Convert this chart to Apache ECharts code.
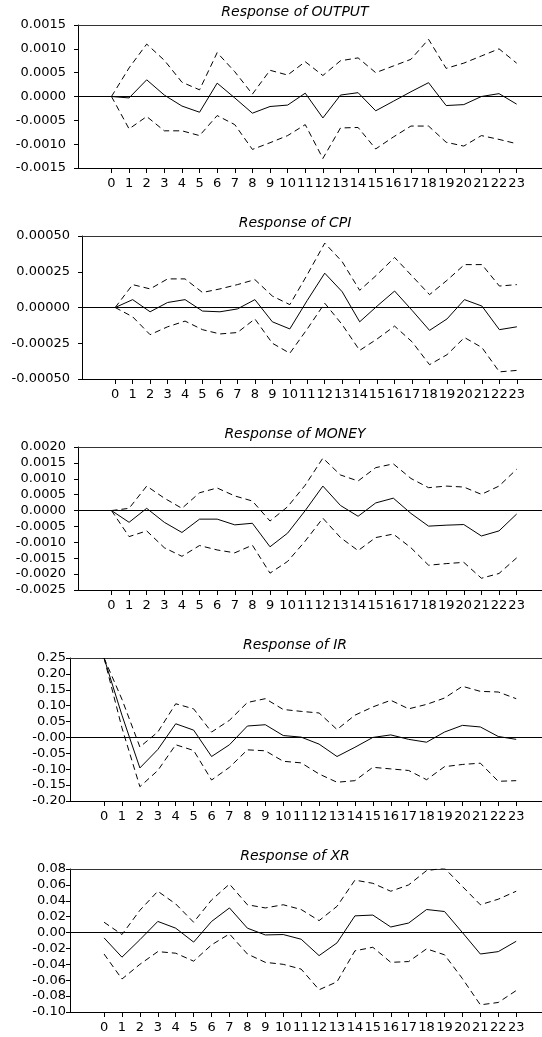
<!DOCTYPE html>
<html>
<head>
<meta charset="utf-8">
<script src="https://cdn.jsdelivr.net/npm/echarts@6/dist/echarts.min.js"></script>
<style>
html, body { margin: 0; padding: 0; background: #fff; }
#main { width: 542px; height: 1037px; }
</style>
</head>
<body>
<div id="main"></div>
<script>
// impulse response horizons
var steps = [0, 1, 2, 3, 4, 5, 6, 7, 8, 9, 10, 11, 12, 13, 14, 15, 16, 17, 18, 19, 20, 21, 22, 23];

// Response of OUTPUT
var outputResp  = [0, -0.00003, 0.00035, 0.00003, -0.0002, -0.00033, 0.00028, -0.00003, -0.00035, -0.00021, -0.00018, 0.00007, -0.00045, 0.00003, 0.00008, -0.0003, -0.0001, 0.0001, 0.00029, -0.00019, -0.00017, 0, 0.00006, -0.00016];
var outputUpper = [0, 0.0006, 0.0011, 0.00076, 0.0003, 0.00014, 0.00092, 0.00052, 0.00005, 0.00055, 0.00045, 0.00073, 0.00044, 0.00075, 0.00081, 0.0005, 0.00064, 0.00078, 0.0012, 0.00059, 0.0007, 0.00085, 0.001, 0.0007];
var outputLower = [0, -0.00068, -0.00042, -0.00072, -0.00072, -0.00082, -0.0004, -0.00059, -0.00111, -0.00097, -0.00082, -0.00059, -0.0013, -0.00066, -0.00065, -0.0011, -0.00085, -0.00062, -0.00062, -0.00096, -0.00104, -0.00082, -0.0009, -0.00099];

// Response of CPI
var cpiResp  = [0, 0.000055, -0.00003, 0.000035, 0.000055, -0.000025, -0.00003, -0.00001, 0.000055, -0.0001, -0.00015, 0.00005, 0.00024, 0.00011, -0.0001, 0.00001, 0.000115, -0.00002, -0.00016, -0.00008, 0.000055, 0.00001, -0.000155, -0.000135];
var cpiUpper = [0, 0.00016, 0.00013, 0.0002, 0.0002, 0.000105, 0.00013, 0.00016, 0.000195, 0.00008, 0.00002, 0.00023, 0.00045, 0.00032, 0.00012, 0.00023, 0.00035, 0.00022, 0.00009, 0.00019, 0.0003, 0.0003, 0.00015, 0.00016];
var cpiLower = [0, -0.000065, -0.00019, -0.000135, -0.000095, -0.000155, -0.000185, -0.000175, -0.00008, -0.00025, -0.00032, -0.00015, 0.00003, -0.00012, -0.0003, -0.00022, -0.00013, -0.00024, -0.0004, -0.00033, -0.00021, -0.00028, -0.00045, -0.00044];

// Response of MONEY
var moneyResp  = [0, -0.00037, 0.00007, -0.00037, -0.00069, -0.00027, -0.00027, -0.00045, -0.0004, -0.00114, -0.00071, 0, 0.00077, 0.00016, -0.00018, 0.00024, 0.00039, -0.00009, -0.00049, -0.00046, -0.00044, -0.0008, -0.00064, -0.00011];
var moneyUpper = [0, 0.00007, 0.00077, 0.00039, 0.00007, 0.00056, 0.00071, 0.00046, 0.0003, -0.00033, 0.00012, 0.0008, 0.00165, 0.00112, 0.00093, 0.00135, 0.00147, 0.00101, 0.00072, 0.00077, 0.00074, 0.00051, 0.00077, 0.0013];
var moneyLower = [0, -0.00082, -0.00064, -0.00117, -0.00144, -0.0011, -0.00124, -0.00133, -0.00109, -0.00197, -0.0016, -0.00096, -0.00024, -0.00085, -0.00126, -0.00085, -0.00074, -0.00117, -0.00172, -0.00167, -0.00163, -0.00213, -0.00198, -0.00149];

// Response of IR
var irResp  = [0.25, 0.07, -0.096, -0.038, 0.043, 0.023, -0.06, -0.023, 0.036, 0.04, 0.006, 0.001, -0.021, -0.06, -0.031, 0, 0.008, -0.006, -0.015, 0.017, 0.038, 0.033, 0.003, -0.006];
var irUpper = [0.25, 0.12, -0.03, 0.017, 0.106, 0.09, 0.017, 0.054, 0.11, 0.122, 0.088, 0.082, 0.077, 0.025, 0.07, 0.096, 0.117, 0.09, 0.104, 0.124, 0.161, 0.145, 0.143, 0.122];
var irLower = [0.25, 0.03, -0.155, -0.104, -0.023, -0.041, -0.134, -0.094, -0.039, -0.042, -0.075, -0.08, -0.115, -0.141, -0.136, -0.094, -0.099, -0.104, -0.133, -0.092, -0.085, -0.081, -0.138, -0.136];

// Response of XR
var xrResp  = [-0.0067, -0.031, -0.009, 0.014, 0.0055, -0.012, 0.014, 0.031, 0.0055, -0.003, -0.0025, -0.0084, -0.029, -0.013, 0.021, 0.022, 0.007, 0.012, 0.029, 0.0265, 0, -0.027, -0.024, -0.011];
var xrUpper = [0.013, -0.0025, 0.028, 0.052, 0.036, 0.013, 0.041, 0.061, 0.035, 0.031, 0.035, 0.029, 0.015, 0.033, 0.066, 0.062, 0.052, 0.06, 0.078, 0.081, 0.058, 0.035, 0.042, 0.052];
var xrLower = [-0.027, -0.0585, -0.04, -0.024, -0.026, -0.036, -0.0155, -0.0017, -0.027, -0.0375, -0.04, -0.046, -0.072, -0.062, -0.023, -0.0185, -0.0375, -0.0365, -0.0205, -0.028, -0.058, -0.091, -0.088, -0.073];

var FONT = 'DejaVu Sans';

var panels = [
    {title: 'Response of OUTPUT', resp: outputResp, upper: outputUpper, lower: outputLower,
     min: -0.0015, max: 0.0015, interval: 0.0005, digits: 4, left: 78, top: 25, margin: 12},
    {title: 'Response of CPI', resp: cpiResp, upper: cpiUpper, lower: cpiLower,
     min: -0.0005, max: 0.0005, interval: 0.00025, digits: 5, left: 82, top: 236, margin: 12},
    {title: 'Response of MONEY', resp: moneyResp, upper: moneyUpper, lower: moneyLower,
     min: -0.0025, max: 0.002, interval: 0.0005, digits: 4, left: 78, top: 447, margin: 12},
    {title: 'Response of IR', resp: irResp, upper: irUpper, lower: irLower,
     min: -0.2, max: 0.25, interval: 0.05, digits: 2, left: 70, top: 658, margin: 4, negZero: true},
    {title: 'Response of XR', resp: xrResp, upper: xrUpper, lower: xrLower,
     min: -0.1, max: 0.08, interval: 0.02, digits: 2, left: 70, top: 869, margin: 4}
];

function pairs(arr) {
    return steps.map(function (s, i) { return [s, arr[i]]; });
}

var titles = [], grids = [], xAxes = [], yAxes = [], series = [];

panels.forEach(function (p, i) {
    titles.push({
        text: p.title,
        left: 295,
        top: p.top - 20,
        textAlign: 'center',
        padding: 0,
        textStyle: {fontFamily: FONT, fontSize: 14, fontStyle: 'italic', fontWeight: 'normal', color: '#000'}
    });
    grids.push({left: p.left, right: 0, top: p.top, height: 143});
    // bottom axis with horizons
    xAxes.push({
        gridIndex: i, type: 'value', min: -1.9, max: 24.44,
        axisLine: {show: true, onZero: false, lineStyle: {color: '#000', width: 1}},
        axisTick: {show: true, length: 5, customValues: steps, lineStyle: {color: '#000'}},
        axisLabel: {customValues: steps, margin: 9, fontFamily: FONT, fontSize: 13, color: '#000'},
        splitLine: {show: false}
    });
    // top frame line
    xAxes.push({
        gridIndex: i, type: 'value', position: 'top', min: -1.9, max: 24.44,
        axisLine: {show: true, onZero: false, lineStyle: {color: '#333', width: 1}},
        axisTick: {show: false}, axisLabel: {show: false}, splitLine: {show: false}
    });
    yAxes.push({
        gridIndex: i, type: 'value', min: p.min, max: p.max, interval: p.interval,
        axisLine: {show: true, onZero: false, lineStyle: {color: '#000', width: 1}},
        axisTick: {show: true, length: 4, lineStyle: {color: '#000'}},
        axisLabel: {
            margin: p.margin, fontFamily: FONT, fontSize: 13, color: '#000',
            formatter: function (v) {
                if (Math.abs(v) < 1e-12) return (p.negZero ? '-' : '') + (0).toFixed(p.digits);
                return v.toFixed(p.digits);
            }
        },
        splitLine: {show: false}
    });
    series.push({
        type: 'line', xAxisIndex: i * 2, yAxisIndex: i, data: pairs(p.resp),
        symbol: 'none', lineStyle: {color: '#000', width: 1},
        markLine: {
            silent: true, symbol: 'none', label: {show: false},
            lineStyle: {color: '#000', width: 1, type: 'solid'},
            data: [{yAxis: 0}]
        }
    });
    series.push({
        type: 'line', xAxisIndex: i * 2, yAxisIndex: i, data: pairs(p.upper),
        symbol: 'none', lineStyle: {color: '#000', width: 1, type: [6, 4]}
    });
    series.push({
        type: 'line', xAxisIndex: i * 2, yAxisIndex: i, data: pairs(p.lower),
        symbol: 'none', lineStyle: {color: '#000', width: 1, type: [6, 4]}
    });
});

var chart = echarts.init(document.getElementById('main'));
chart.setOption({
    animation: false,
    backgroundColor: '#fff',
    title: titles,
    grid: grids,
    xAxis: xAxes,
    yAxis: yAxes,
    series: series
});
</script>
</body>
</html>
